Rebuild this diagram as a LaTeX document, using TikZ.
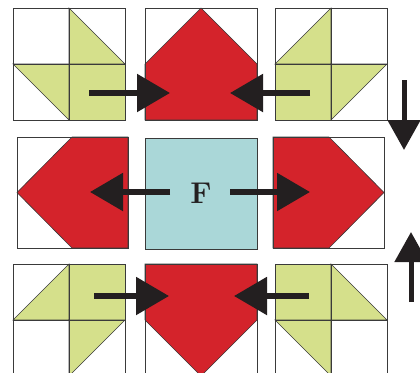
\documentclass[tikz,border=0pt]{standalone}
\usetikzlibrary{arrows.meta}
\definecolor{qgreen}{HTML}{D5E08B}
\definecolor{qred}{HTML}{D4232B}
\definecolor{qteal}{HTML}{AAD7D8}
\definecolor{qink}{HTML}{231F20}
\definecolor{qline}{HTML}{3A3A3A}
\tikzset{
  gpatch/.style={fill=qgreen, draw=qline, line width=0.6pt},
  rpatch/.style={fill=qred, draw=qline, line width=0.6pt},
  blk/.style={draw=qline, line width=0.8pt, fill=none, inner sep=0pt, outer sep=0pt, anchor=north west},
  grid/.style={draw=qline, line width=0.8pt},
  harr/.style={draw=qink, line width=5.5pt, -{Triangle[length=33pt,width=37pt]}},
  varr/.style={draw=qink, line width=5pt, -{Triangle[length=30pt,width=32pt]}},
}
\begin{document}
\begin{tikzpicture}[x=1pt,y=-1pt]
\useasboundingbox (0,0) rectangle (420,372);
\clip (0,0) rectangle (420,372);
\def\s{112}\def\m{56}
% ---- top-left pinwheel block
\begin{scope}[shift={(13,8)}]
  \fill[qgreen] (\m,\m) rectangle (\s,\s);
  \path[gpatch] (\m,0) -- (\s,\m) -- (\m,\m) -- cycle;
  \path[gpatch] (0,\m) -- (\m,\m) -- (\m,\s) -- cycle;
  \draw[grid] (\m,0) -- (\m,\s) (0,\m) -- (\s,\m);
\end{scope}
\node[blk, minimum width=112pt, minimum height=112pt] (A) at (13,8) {};
% ---- top-middle red block
\begin{scope}[shift={(145,8)}]
  \path[rpatch] (0,\m) -- (\m,0) -- (\s,\m) -- (\s,\s) -- (0,\s) -- cycle;
\end{scope}
\node[blk, minimum width=112pt, minimum height=112pt] (B) at (145,8) {};
% ---- top-right pinwheel block
\begin{scope}[shift={(275,8)}]
  \fill[qgreen] (0,\m) rectangle (\m,\s);
  \path[gpatch] (0,\m) -- (\m,0) -- (\m,\m) -- cycle;
  \path[gpatch] (\m,\m) -- (\s,\m) -- (\m,\s) -- cycle;
  \draw[grid] (\m,0) -- (\m,\s) (0,\m) -- (\s,\m);
\end{scope}
\node[blk, minimum width=112pt, minimum height=112pt] (C) at (275,8) {};
% ---- middle-left red block
\begin{scope}[shift={(17,137)}]
  \path[rpatch] (55,0) -- (111,0) -- (111,111) -- (55,111) -- (0,55.5) -- cycle;
\end{scope}
\node[blk, minimum width=111pt, minimum height=111pt] (D) at (17,137) {};
% ---- centre
\node[blk, fill=qteal, minimum width=112pt, minimum height=111pt] (E) at (145,138) {};
\node[font=\fontsize{30}{30}\selectfont\bfseries, text=qink] (F) at (E.center) {F};
% ---- middle-right red block
\begin{scope}[shift={(273,137)}]
  \path[rpatch] (0,0) -- (56,0) -- (111,55.5) -- (56,111) -- (0,111) -- cycle;
\end{scope}
\node[blk, minimum width=111pt, minimum height=111pt] (G) at (273,137) {};
% ---- bottom-left pinwheel block
\begin{scope}[shift={(13,264)}]
  \fill[qgreen] (\m,0) rectangle (\s,\m);
  \path[gpatch] (0,\m) -- (\m,0) -- (\m,\m) -- cycle;
  \path[gpatch] (\m,\m) -- (\s,\m) -- (\m,\s) -- cycle;
  \draw[grid] (\m,0) -- (\m,\s) (0,\m) -- (\s,\m);
\end{scope}
\node[blk, minimum width=112pt, minimum height=112pt] (H) at (13,264) {};
% ---- bottom-middle red block
\begin{scope}[shift={(145,264)}]
  \path[rpatch] (0,0) -- (\s,0) -- (\s,\m) -- (\m,\s) -- (0,\m) -- cycle;
\end{scope}
\node[blk, minimum width=112pt, minimum height=112pt] (I) at (145,264) {};
% ---- bottom-right pinwheel block
\begin{scope}[shift={(275,264)}]
  \fill[qgreen] (0,0) rectangle (\m,\m);
  \path[gpatch] (\m,0) -- (\s,\m) -- (\m,\m) -- cycle;
  \path[gpatch] (0,\m) -- (\m,\m) -- (\m,\s) -- cycle;
  \draw[grid] (\m,0) -- (\m,\s) (0,\m) -- (\s,\m);
\end{scope}
\node[blk, minimum width=112pt, minimum height=112pt] (J) at (275,264) {};
% ---- arrow end points
\coordinate (a1s) at (89,93);   \coordinate (a1e) at (170,93);
\coordinate (a2s) at (310,93);  \coordinate (a2e) at (230,93);
\coordinate (a3s) at (170,192); \coordinate (a3e) at (90,192);
\coordinate (a4s) at (230,192); \coordinate (a4e) at (310,192);
\coordinate (a5s) at (94,296);  \coordinate (a5e) at (169,296);
\coordinate (a6s) at (309,296); \coordinate (a6e) at (234,296);
\coordinate (v1s) at (404,80);  \coordinate (v1e) at (404,150);
\coordinate (v2s) at (411,302); \coordinate (v2e) at (411,232);
\draw[harr] (a1s) -- (a1e);
\draw[harr] (a2s) -- (a2e);
\draw[harr] (a3s) -- (a3e);
\draw[harr] (a4s) -- (a4e);
\draw[harr] (a5s) -- (a5e);
\draw[harr] (a6s) -- (a6e);
\draw[varr] (v1s) -- (v1e);
\draw[varr] (v2s) -- (v2e);
\end{tikzpicture}
\end{document}
